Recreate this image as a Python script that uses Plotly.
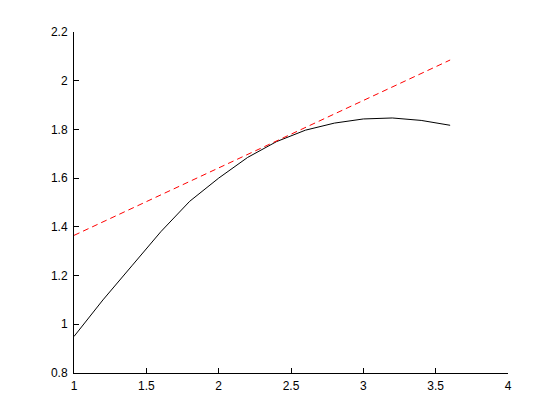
import plotly.graph_objects as go

# Black curve
curve_x = [1.0, 1.2, 1.4, 1.6, 1.8, 2.0, 2.2, 2.4, 2.6, 2.8, 3.0, 3.2, 3.4, 3.6]
curve_y = [0.95, 1.10, 1.24, 1.38, 1.505, 1.60, 1.685, 1.75, 1.797, 1.826, 1.843, 1.847, 1.837, 1.817]

# Red dashed tangent line
tan_x = [1.0, 3.6]
tan_y = [1.365, 2.085]

x_ticks = [1, 1.5, 2, 2.5, 3, 3.5, 4]
x_labels = ["1", "1.5", "2", "2.5", "3", "3.5", "4"]
y_ticks = [0.8, 1, 1.2, 1.4, 1.6, 1.8, 2, 2.2]
y_labels = ["0.8", "1", "1.2", "1.4", "1.6", "1.8", "2", "2.2"]

fig = go.Figure()
fig.add_trace(go.Scatter(x=curve_x, y=curve_y, mode="lines",
                         line=dict(color="black", width=1), showlegend=False))
fig.add_trace(go.Scatter(x=tan_x, y=tan_y, mode="lines",
                         line=dict(color="red", width=1, dash="6px,4px"), showlegend=False))

axis_common = dict(showgrid=False, zeroline=False, showline=True, linecolor="black",
                   linewidth=1, ticks="inside", ticklen=5, tickcolor="black",
                   tickfont=dict(family="Liberation Sans, Arial, sans-serif", size=12, color="black"))

fig.update_xaxes(range=[1, 4], tickvals=x_ticks, ticktext=x_labels, ticklabelstandoff=2, **axis_common)
fig.update_yaxes(range=[0.8, 2.2], tickvals=y_ticks, ticktext=y_labels, ticklabelstandoff=3, **axis_common)

fig.update_layout(width=560, height=420, margin=dict(l=66, r=60, t=24, b=55),
                  paper_bgcolor="white", plot_bgcolor="white")

fig.write_html("out.html")
